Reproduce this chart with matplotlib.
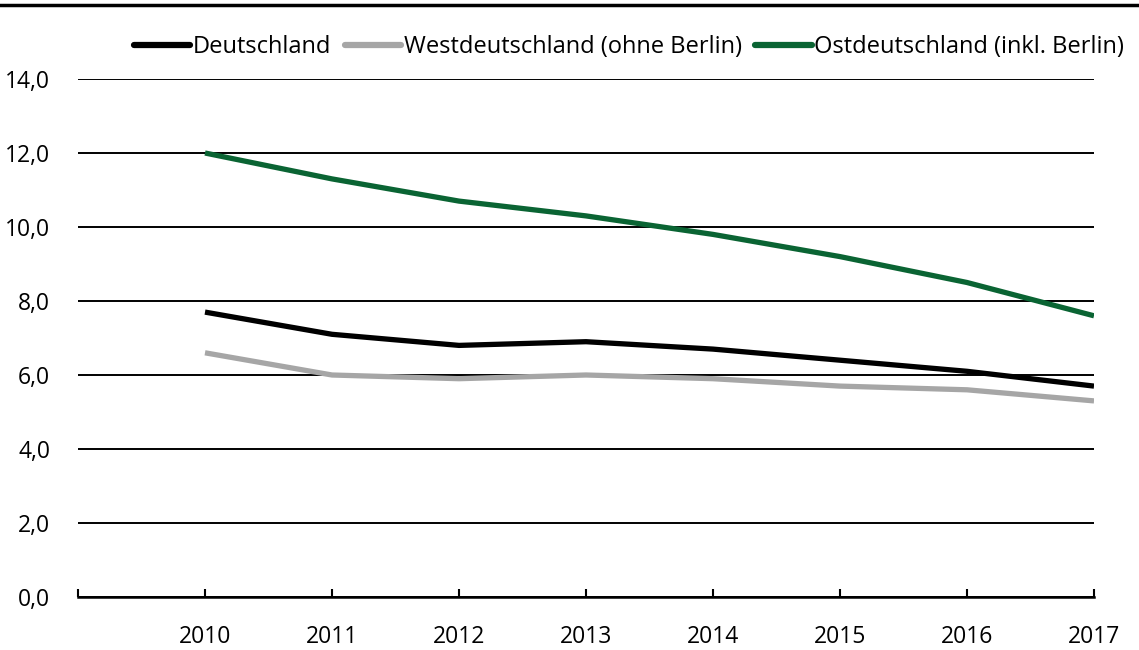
import matplotlib
matplotlib.use("Agg")
import matplotlib.pyplot as plt
from matplotlib.lines import Line2D
from matplotlib.ticker import FuncFormatter

years = [2010, 2011, 2012, 2013, 2014, 2015, 2016, 2017]
deutschland = [7.7, 7.1, 6.8, 6.9, 6.7, 6.4, 6.1, 5.7]
west = [6.6, 6.0, 5.9, 6.0, 5.9, 5.7, 5.6, 5.3]
ost = [12.0, 11.3, 10.7, 10.3, 9.8, 9.2, 8.5, 7.6]
labels = ["Deutschland", "Westdeutschland (ohne Berlin)", "Ostdeutschland (inkl. Berlin)"]
colors = ["#000000", "#a6a6a6", "#0a6433"]

plt.rcParams['font.family'] = ['Open Sans', 'DejaVu Sans']
plt.rcParams['font.size'] = 16.5

fig = plt.figure(figsize=(11.39, 6.5), dpi=100)
ax = fig.add_axes([78 / 1139, 1 - 597 / 650, (1094 - 78) / 1139, (597 - 79) / 650])

for vals, lbl, c in zip([deutschland, west, ost], labels, colors):
    ax.plot(years, vals, color=c, linewidth=3.8, label=lbl, solid_capstyle='butt', zorder=3)

ax.set_xlim(2009, 2017)
ax.set_ylim(0, 14)
ax.set_yticks(range(0, 15, 2))
ax.yaxis.set_major_formatter(FuncFormatter(lambda v, p: ("%.1f" % v).replace(".", ",")))
ax.set_xticks([2009] + years)
ax.set_xticklabels([""] + [str(y) for y in years])
ax.tick_params(axis='x', direction='in', length=6, width=1.5, pad=20)
ax.tick_params(axis='y', length=0, pad=20)
ax.grid(axis='y', color='black', linewidth=1.4)
for s in ['top', 'right', 'left']:
    ax.spines[s].set_visible(False)
ax.spines['bottom'].set_linewidth(1.8)
ax.spines['bottom'].set_zorder(4)

handles = [Line2D([0], [0], color=c, linewidth=4.5, solid_capstyle='round') for c in colors]
fig.legend(handles, labels, loc='center', bbox_to_anchor=(629 / 1139, 1 - 47 / 650), ncol=3,
           frameon=False, handlelength=2.4, handletextpad=0.12, columnspacing=0.55, fontsize=17)

fig.add_artist(Line2D([0, 1], [1 - 5 / 650, 1 - 5 / 650], color='black', linewidth=2.5,
                      transform=fig.transFigure))

fig.savefig("out.png", dpi=100)
